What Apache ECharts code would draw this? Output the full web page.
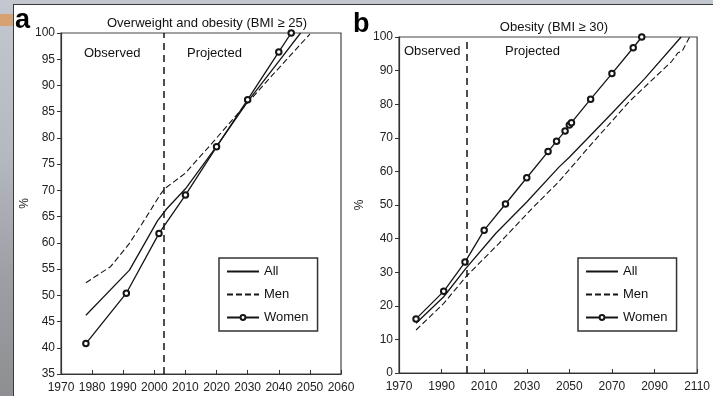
<!DOCTYPE html>
<html lang="en">
<head>
<meta charset="UTF-8">
<title>Overweight and obesity projections</title>
<script src="https://cdn.jsdelivr.net/npm/echarts@6/dist/echarts.min.js"></script>
<style>
  body{
    margin: 0;
    width: 713px;
    height: 396px;
    overflow: hidden;
    background: linear-gradient(180deg, #c3c7cf 0%, #b4b8bf 40%, #9c9fa4 70%, #8d8f92 100%);
    position: relative;
  }
  #stripe{
    position: absolute; left: 0; top: 14px; width: 13px; height: 12px;
    background: #d6a272;
  }
  #panel{
    position: absolute; left: 13px; top: 4px; right: 0; bottom: 0;
    background: #fff;
    border-left: 1px solid #3a3a3a;
    border-top: 1px solid #3a3a3a;
  }
  #main{
    position: absolute; left: 0; top: 0; width: 713px; height: 396px;
  }
</style>
</head>
<body>
<div id="stripe"></div>
<div id="panel"></div>
<div id="main"></div>
<script>
// panel a : overweight and obesity (BMI >= 25)
const allAYears   = [1978, 1992, 2001, 2004, 2010, 2020, 2030, 2040, 2047];
const allAValues  = [46.2, 54.8, 64.2, 66.5, 70.3, 78.4, 86.9, 94.6, 100];
const menAYears   = [1978, 1986, 1992, 1997.5, 2002, 2003.5, 2010, 2019, 2026.5, 2038, 2050];
const menAValues  = [52.4, 55.5, 59.9, 65.0, 69.3, 70.4, 73.3, 79.3, 84.4, 92.0, 99.8];
const womenAYears = [1978, 1991, 2001.5, 2010, 2020, 2030, 2040, 2044];
const womenAValues= [40.8, 50.4, 61.8, 69.1, 78.3, 87.3, 96.4, 100];
const divideA = 2003;

// panel b : obesity (BMI >= 30)
const allBYears   = [1978, 1991, 2001.5, 2015.5, 2030, 2045, 2050, 2070, 2085.5, 2102.5];
const allBValues  = [14.8, 22.7, 31.2, 41.6, 50.9, 61.2, 64.2, 77.3, 87.7, 100];
const menBYears   = [1978, 1991, 2001.5, 2017, 2033, 2045, 2058, 2078, 2098, 2101, 2103, 2106.5];
const menBValues  = [12.8, 20.7, 28.7, 38.6, 49.3, 56.9, 66.4, 80.7, 92.7, 95.3, 95.8, 100];
const womenBYears = [1978, 1991, 2001, 2010, 2020, 2030, 2040, 2044, 2048, 2050, 2051, 2060, 2070, 2080, 2084];
const womenBValues= [16.1, 24.3, 33.0, 42.5, 50.3, 58.1, 65.9, 69.0, 72.0, 73.8, 74.5, 81.5, 89.1, 96.8, 100];
const divideB = 2002;

function pairs(xs, ys){
  return xs.map((x, i) => [x, ys[i]]);
}

const ink = '#151515';
const font = 'Liberation Sans';

function panelSeries(idx, all, men, women, divide){
  return [
    {
      name: 'All', type: 'line', xAxisIndex: idx, yAxisIndex: idx,
      data: all, symbol: 'none',
      lineStyle: {color: ink, width: 1.3},
      itemStyle: {color: ink},
      markLine: {
        silent: true, symbol: 'none', label: {show: false},
        lineStyle: {color: ink, width: 1.5, type: [7, 5]},
        data: [{xAxis: divide}]
      }
    },
    {
      name: 'Men', type: 'line', xAxisIndex: idx, yAxisIndex: idx,
      data: men, symbol: 'none',
      lineStyle: {color: ink, width: 1.1, type: [6, 3]},
      itemStyle: {color: ink}
    },
    {
      name: 'Women', type: 'line', xAxisIndex: idx, yAxisIndex: idx,
      data: women, symbol: 'emptyCircle', symbolSize: 5.5, showSymbol: true,
      lineStyle: {color: ink, width: 1.3},
      itemStyle: {color: ink, borderWidth: 1.1}
    }
  ];
}

function xAxisCfg(idx, min, max, interval){
  return {
    type: 'value', gridIndex: idx, min: min, max: max, interval: interval,
    axisLine: {show: true, lineStyle: {color: '#333', width: 1.2}},
    axisTick: {show: true, inside: true, length: 4, lineStyle: {color: '#333'}},
    axisLabel: {color: '#222', fontSize: 12, fontFamily: font, margin: 8,
      formatter: v => String(v)},
    splitLine: {show: false}
  };
}

function yAxisCfg(idx, min, max, interval, gap){
  return {
    type: 'value', gridIndex: idx, min: min, max: max, interval: interval,
    name: '%', nameLocation: 'middle', nameGap: gap, nameRotate: 90,
    nameTextStyle: {color: '#222', fontSize: 12, fontFamily: font},
    axisLine: {show: true, lineStyle: {color: '#333', width: 1.2}},
    axisTick: {show: true, length: 4, lineStyle: {color: '#333'}},
    axisLabel: {color: '#222', fontSize: 12, fontFamily: font, margin: 6},
    splitLine: {show: false}
  };
}

function legendCfg(left){
  return {
    data: [
      {name: 'All', itemStyle: {opacity: 0}},
      {name: 'Men', itemStyle: {opacity: 0}},
      'Women'
    ],
    orient: 'vertical', left: left, top: 258,
    itemWidth: 32, itemHeight: 6, itemGap: 10,
    padding: [7, 9, 7, 7],
    borderColor: '#333', borderWidth: 1.5,
    selectedMode: false,
    textStyle: {color: '#111', fontSize: 13, fontFamily: font}
  };
}

const myChart = echarts.init(document.getElementById('main'));
const option = {
  animation: false,
  backgroundColor: 'transparent',
  textStyle: {fontFamily: font},
  title: [
    {text: 'Overweight and obesity (BMI \u2265 25)', left: 202, top: 12, textAlign: 'center',
      textStyle: {fontSize: 13, fontWeight: 'normal', color: '#111', fontFamily: font}},
    {text: 'Obesity (BMI \u2265 30)', left: 549, top: 16, textAlign: 'center',
      textStyle: {fontSize: 13, fontWeight: 'normal', color: '#111', fontFamily: font}}
  ],
  grid: [
    {left: 61, top: 33, width: 280, height: 341, show: true, borderColor: '#444', borderWidth: 1.2, backgroundColor: 'transparent'},
    {left: 399, top: 37, width: 300, height: 336, show: true, borderColor: '#444', borderWidth: 1.2, backgroundColor: 'transparent'}
  ],
  xAxis: [xAxisCfg(0, 1970, 2060, 10), xAxisCfg(1, 1970, 2110, 20)],
  yAxis: [yAxisCfg(0, 35, 100, 5, 30), yAxisCfg(1, 0, 100, 10, 33)],
  legend: [legendCfg(219), legendCfg(578)],
  graphic: [
    {type: 'text', left: 15, top: 7, style: {text: 'a', font: 'bold 27px "Liberation Sans"', fill: '#000'}},
    {type: 'text', left: 353, top: 11, style: {text: 'b', font: 'bold 27px "Liberation Sans"', fill: '#000'}},
    {type: 'text', left: 84, top: 47, style: {text: 'Observed', font: '13px "Liberation Sans"', fill: '#111'}},
    {type: 'text', left: 187, top: 47, style: {text: 'Projected', font: '13px "Liberation Sans"', fill: '#111'}},
    {type: 'text', left: 404, top: 45, style: {text: 'Observed', font: '13px "Liberation Sans"', fill: '#111'}},
    {type: 'text', left: 505, top: 45, style: {text: 'Projected', font: '13px "Liberation Sans"', fill: '#111'}}
  ],
  series: [].concat(
    panelSeries(0, pairs(allAYears, allAValues), pairs(menAYears, menAValues), pairs(womenAYears, womenAValues), divideA),
    panelSeries(1, pairs(allBYears, allBValues), pairs(menBYears, menBValues), pairs(womenBYears, womenBValues), divideB)
  )
};
myChart.setOption(option);
</script>
</body>
</html>
